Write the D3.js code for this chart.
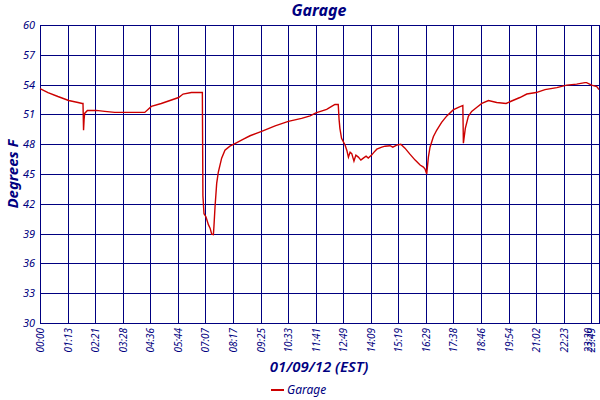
<!DOCTYPE html>
<html>
<head>
<meta charset="utf-8">
<script src="https://cdn.jsdelivr.net/npm/d3@7"></script>
<style>
  body { margin: 0; background: #fff; }
  text { font-family: "Noto Sans", sans-serif; font-style: italic; fill: #000080; }
</style>
</head>
<body>
<div id="graph"></div>
<script>
const w = 600;
const h = 400;
const margin = { top: 25, right: 1, bottom: 77, left: 40 };

// row number of each logged reading (ticks every 100 rows)
const rows = [0, 29, 65, 104, 138, 153, 156, 158, 160, 162, 172, 204, 235, 271, 380,
  404, 440, 503, 519, 549, 585, 589, 591, 595, 602, 611, 617, 623, 629, 631, 635,
  641, 647, 659, 671, 689, 714, 738, 762, 804, 853, 901, 949, 980, 1001, 1040,
  1058, 1070, 1082, 1085, 1088, 1094, 1107, 1113, 1119, 1125, 1131, 1139, 1146,
  1155, 1164, 1173, 1183, 1191, 1203, 1212, 1222, 1240, 1252, 1270, 1280, 1294,
  1309, 1324, 1342, 1361, 1379, 1391, 1397, 1403, 1409, 1415, 1427, 1439, 1457,
  1476, 1499, 1518, 1534, 1536, 1543, 1554, 1566, 1584, 1603, 1627, 1657, 1691,
  1711, 1741, 1766, 1800, 1832, 1875, 1911, 1947, 1977, 1983, 2001, 2020, 2028];

// garage temperature, degrees F
const temps = [53.6, 53.2, 52.8, 52.4, 52.2, 52.1, 52.1, 49.4, 50.5, 51.1, 51.4, 51.4, 51.3, 51.2, 51.2,
  51.8, 52.1, 52.7, 53.05, 53.2, 53.2, 53.2, 42.8, 41.0, 40.7, 39.9, 39.55, 38.95, 38.9, 39.7, 41.7,
  44.05, 45.2, 46.6, 47.4, 47.8, 48.15, 48.5, 48.85, 49.3, 49.85, 50.3, 50.6, 50.85, 51.15, 51.5,
  51.8, 52.0, 52.0, 50.5, 49.6, 48.6, 47.9, 47.4, 46.7, 47.2, 47.05, 46.3, 46.9,
  46.7, 46.4, 46.6, 46.8, 46.6, 46.9, 47.2, 47.5, 47.7, 47.8, 47.85, 47.7, 47.9,
  48.0, 47.6, 47.0, 46.4, 45.9, 45.7, 45.5, 45.0, 46.7, 47.7, 48.75, 49.4, 50.2,
  50.85, 51.45, 51.7, 51.9, 48.1, 49.6, 50.8, 51.3, 51.7, 52.1, 52.4, 52.2, 52.1,
  52.35, 52.7, 53.05, 53.2, 53.5, 53.7, 53.95, 54.05, 54.2, 54.2, 53.95, 53.8, 53.5];

const tickRows = [0, 100, 200, 300, 400, 500, 600, 700, 800, 900, 1000, 1100, 1200,
  1300, 1400, 1500, 1600, 1700, 1800, 1900, 2000, 2028];
const tickLabels = ['00:00', '01:13', '02:21', '03:28', '04:36', '05:44', '07:07', '08:17',
  '09:25', '10:33', '11:41', '12:49', '14:09', '15:19', '16:29', '17:38', '18:46', '19:54',
  '21:02', '22:23', '23:30', '23:49'];
const yTicks = [30, 33, 36, 39, 42, 45, 48, 51, 54, 57, 60];

const data = rows.map((r, i) => ({ row: r, temp: temps[i] }));

const svg = d3.select('#graph')
              .append('svg')
              .attr('width', w)
              .attr('height', h);

const xScale = d3.scaleLinear()
                 .domain([0, 2028])
                 .range([margin.left, w - margin.right]);

const yScale = d3.scaleLinear()
                 .domain([30, 60])
                 .range([h - margin.bottom, margin.top]);

const navy = '#000080';

// vertical grid
svg.append('g')
   .attr('transform', 'translate(0,' + (h - margin.bottom) + ')')
   .call(d3.axisBottom(xScale).tickValues(tickRows).tickSize(-(h - margin.top - margin.bottom)).tickFormat(''))
   .call(g => g.select('.domain').remove())
   .selectAll('line')
   .attr('stroke', navy)
   .attr('stroke-width', 1)
   .attr('shape-rendering', 'crispEdges');

// horizontal grid
svg.append('g')
   .attr('transform', 'translate(' + margin.left + ',0)')
   .call(d3.axisLeft(yScale).tickValues(yTicks).tickSize(-(w - margin.left - margin.right)).tickFormat(''))
   .call(g => g.select('.domain').remove())
   .selectAll('line')
   .attr('stroke', navy)
   .attr('stroke-width', 1)
   .attr('shape-rendering', 'crispEdges');

// frame
svg.append('rect')
   .attr('x', margin.left)
   .attr('y', margin.top)
   .attr('width', w - margin.left - margin.right)
   .attr('height', h - margin.top - margin.bottom)
   .attr('fill', 'none')
   .attr('stroke', navy)
   .attr('stroke-width', 1)
   .attr('shape-rendering', 'crispEdges');

// y tick labels
svg.append('g')
   .attr('transform', 'translate(' + margin.left + ',0)')
   .call(d3.axisLeft(yScale).tickValues(yTicks).tickSize(0).tickPadding(5))
   .call(g => g.select('.domain').remove())
   .selectAll('text')
   .style('font-size', '11px')
   .attr('fill', navy);

// x tick labels, rotated; the last two are nudged in so they stay on the page
const nudge = { 20: -3, 21: -8 };
svg.append('g')
   .attr('transform', 'translate(0,' + (h - margin.bottom) + ')')
   .call(d3.axisBottom(xScale).tickValues(tickRows).tickSize(0)
           .tickFormat((d, i) => tickLabels[i]))
   .call(g => g.select('.domain').remove())
   .selectAll('text')
   .attr('transform', 'rotate(-90)')
   .attr('text-anchor', 'end')
   .attr('x', -5)
   .attr('y', (d, i) => nudge[i] || 0)
   .attr('dy', '0.35em')
   .style('font-size', '10px')
   .attr('fill', navy);

// the temperature line
const line = d3.line()
               .x(d => xScale(d.row))
               .y(d => yScale(d.temp));

svg.append('path')
   .datum(data)
   .attr('d', line)
   .attr('fill', 'none')
   .attr('stroke', '#cc0000')
   .attr('stroke-width', 1.4);

// title
svg.append('text')
   .attr('x', 319)
   .attr('y', 16)
   .attr('text-anchor', 'middle')
   .style('font-size', '16px')
   .style('font-weight', 'bold')
   .text('Garage');

// y label
svg.append('text')
   .attr('transform', 'rotate(-90)')
   .attr('x', -174)
   .attr('y', 18)
   .attr('text-anchor', 'middle')
   .style('font-size', '15px')
   .style('font-weight', 'bold')
   .text('Degrees F');

// x label
svg.append('text')
   .attr('x', 319)
   .attr('y', 372)
   .attr('text-anchor', 'middle')
   .style('font-size', '15px')
   .style('font-weight', '600')
   .text('01/09/12 (EST)');

// legend
svg.append('line')
   .attr('x1', 271)
   .attr('x2', 284)
   .attr('y1', 390)
   .attr('y2', 390)
   .attr('stroke', '#cc0000')
   .attr('stroke-width', 2);

svg.append('text')
   .attr('x', 287)
   .attr('y', 394)
   .style('font-size', '12px')
   .text('Garage');
</script>
</body>
</html>
